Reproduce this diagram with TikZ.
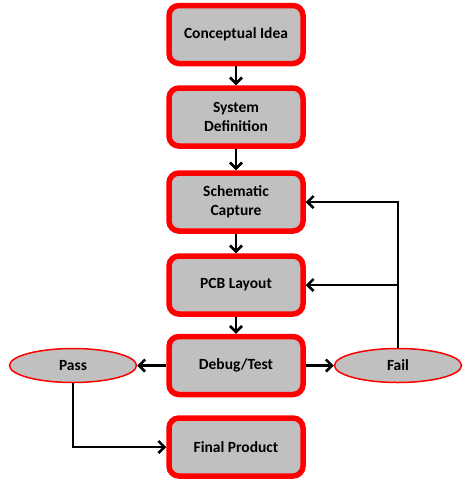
\documentclass[tikz,border=0pt]{standalone}
\usepackage{fontspec}
\setmainfont{Carlito}
\usetikzlibrary{arrows.meta,shapes.geometric}
\definecolor{boxgrey}{RGB}{192,192,192}
\definecolor{boxred}{RGB}{255,0,0}
\begin{document}
\begin{tikzpicture}[x=1pt,y=-1pt,
  stagebox/.style={draw=boxred, line width=5.5pt, fill=boxgrey, rounded corners=10pt,
    minimum width=134pt, minimum height=58pt, inner sep=0pt, align=center,
    font=\fontsize{15.5}{19}\selectfont\bfseries},
  resultell/.style={ellipse, draw=boxred, line width=1.5pt, fill=boxgrey,
    minimum width=127pt, minimum height=34pt, inner sep=0pt,
    font=\fontsize{15.5}{19}\selectfont\bfseries},
  flow/.style={draw=black, line width=2.8pt, -{Straight Barb[length=6pt,width=12pt,line width=2.6pt]}},
  link/.style={draw=black, line width=2.8pt}
]
\useasboundingbox (0,0) rectangle (474,480);
\node[stagebox] (idea) at (236,34.5) {Conceptual Idea};
\node[stagebox] (sys) at (236,117) {System\\Definition};
\node[stagebox] (sch) at (236,202) {Schematic\\Capture};
\node[stagebox] (pcb) at (236,285) {PCB Layout};
\node[stagebox] (dbg) at (236,365.5) {Debug/Test};
\node[stagebox] (fin) at (236,447) {Final Product};
\node[resultell] (pass) at (73,365.5) {Pass};
\node[resultell] (fail) at (398,365.5) {Fail};
\draw[flow] (idea) -- (sys);
\draw[flow] (sys) -- (sch);
\draw[flow] (sch) -- (pcb);
\draw[flow] (pcb) -- (dbg);
\draw[flow] (dbg) -- (pass);
\draw[flow] (dbg) -- (fail);
\draw[flow] (fail.north) |- (sch.east);
\draw[flow] (fail.north |- pcb.east) -- (pcb.east);
\draw[flow] (pass.south) |- (fin.west);
\end{tikzpicture}
\end{document}
